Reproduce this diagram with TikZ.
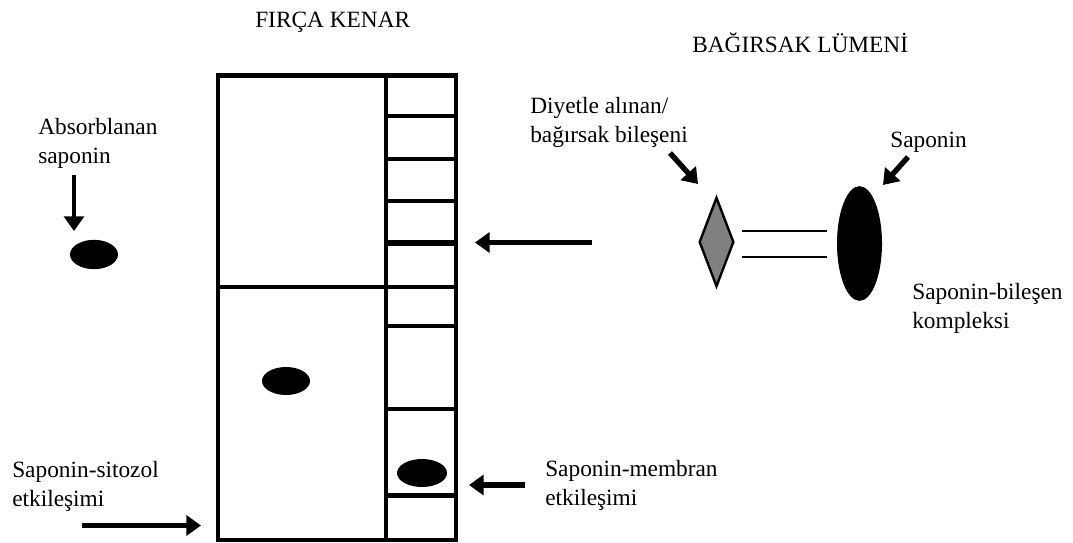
\documentclass[tikz,border=0pt]{standalone}
\usepackage{fontspec}
\setmainfont{Liberation Serif}
\usetikzlibrary{arrows.meta,shapes.geometric}
\begin{document}
\begin{tikzpicture}[x=0.75pt,y=-0.75pt,
  wall/.style={line width=3pt},
  thickwall/.style={line width=4.3pt},
  lbl/.style={font=\fontsize{17.5}{21.4}\selectfont, inner sep=0pt, align=left, anchor=base west},
  blob/.style={ellipse, fill=black, draw=none, inner sep=0pt},
  pointer/.style={line width=#1, -{Triangle[length=11pt,width=15pt]}},
  pointer/.default=3.6pt,
  bond/.style={line width=0.9pt}]
\useasboundingbox (0,0) rectangle (1073,542);

% enterocyte with its brush border column
\draw[wall] (218,75.5) rectangle (456,539.5);
\draw[thickwall] (216,75.5) -- (458,75.5);
\draw[wall] (385.5,75.5) -- (385.5,539.5);
\draw[wall] (218,287) -- (456,287);
\foreach \yy in {116,159,201,326,408.5}
  \draw[wall] (385.5,\yy) -- (456,\yy);
\draw[thickwall] (385.5,243) -- (456,243);
\draw[thickwall] (385.5,495.5) -- (456,495.5);

% headings
\node[lbl] (brush) at (255,28) {FIRÇA KENAR};
\node[lbl] (lumen) at (692,53) {BAĞIRSAK LÜMENİ};

% saponin particles
\node[blob, minimum width=36pt, minimum height=22pt] (absorbed) at (94,254.5) {};
\node[blob, minimum width=36pt, minimum height=21pt] (cytosol) at (286,381) {};
\node[blob, minimum width=37.5pt, minimum height=21pt] (membrane) at (422,473) {};

% saponin-component complex in the lumen
\node[diamond, draw=black, line width=1.8pt, fill=gray, inner sep=0pt,
      minimum width=26pt, minimum height=67pt] (comp) at (716.5,242) {};
\node[blob, minimum width=33.75pt, minimum height=86pt] (sap) at (859.5,243.5) {};
\draw[bond] (742,231) -- (827,231);
\draw[bond] (742,257) -- (827,257);

% labels (anchored on the baseline of their last line)
\node[lbl] (absLbl) at (38,163) {Absorblanan\\saponin};
\node[lbl] (dietLbl) at (530,142) {Diyetle alınan/\\bağırsak bileşeni};
\node[lbl] (sapLbl) at (890,147) {Saponin};
\node[lbl] (cplxLbl) at (912,328) {Saponin-bileşen\\kompleksi};
\node[lbl] (sitLbl) at (12,506) {Saponin-sitozol\\etkileşimi};
\node[lbl] (memLbl) at (545,505) {Saponin-membran\\etkileşimi};

% arrow end points
\coordinate (absS) at (74,175);   \coordinate (absE) at (74,231);
\coordinate (dietS) at (670,153); \coordinate (dietE) at (698,184);
\coordinate (sapS) at (908,157);  \coordinate (sapE) at (883,185);
\coordinate (lumS) at (592,242.5);\coordinate (lumE) at (475,242.5);
\coordinate (sitS) at (82,525.5); \coordinate (sitE) at (201,525.5);
\coordinate (memS) at (525,485);  \coordinate (memE) at (469,485);

% arrows
\draw[pointer=2.4pt] (absS) -- (absE);
\draw[pointer=4pt] (dietS) -- (dietE);
\draw[pointer=4pt] (sapS) -- (sapE);
\draw[pointer=4.3pt] (lumS) -- (lumE);
\draw[pointer=3.6pt] (sitS) -- (sitE);
\draw[pointer=4.3pt] (memS) -- (memE);
\end{tikzpicture}
\end{document}
